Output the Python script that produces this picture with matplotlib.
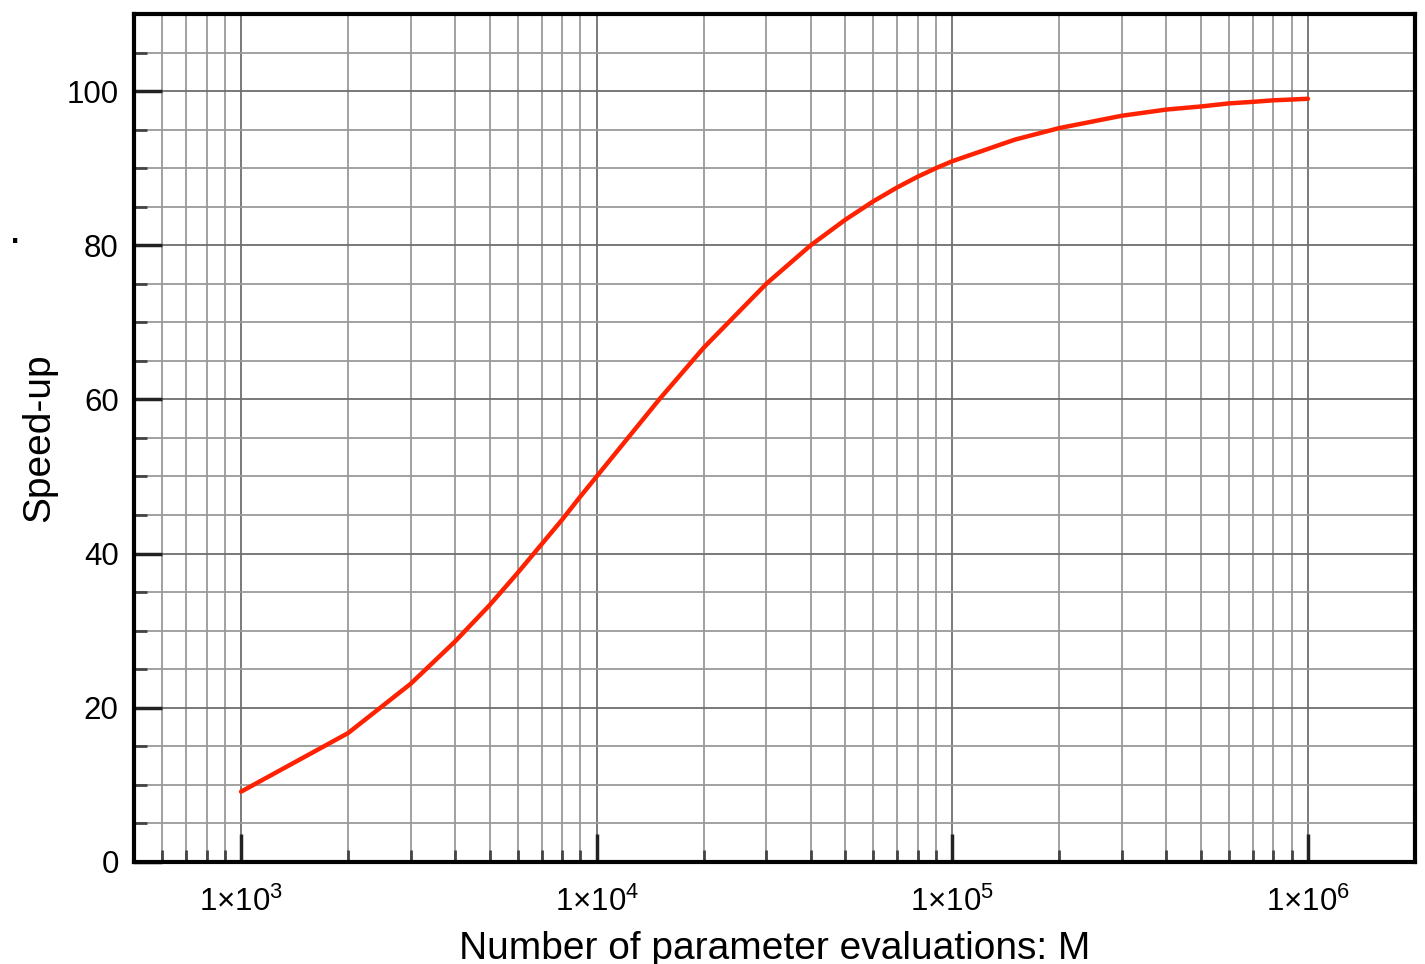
import numpy as np
import matplotlib.pyplot as plt
from matplotlib.ticker import FixedLocator, LogLocator, MultipleLocator, NullFormatter

plt.rcParams['font.family'] = ['Liberation Sans', 'DejaVu Sans']
plt.rcParams['mathtext.fontset'] = 'custom'
plt.rcParams['mathtext.rm'] = 'Liberation Sans'
plt.rcParams['mathtext.it'] = 'Liberation Sans:italic'

# number of parameter evaluations
M = [1e3, 2e3, 3e3, 4e3, 5e3, 6e3, 7e3, 8e3, 9e3,
     1e4, 1.5e4, 2e4, 3e4, 4e4, 5e4, 6e4, 7e4, 8e4, 9e4,
     1e5, 1.5e5, 2e5, 3e5, 4e5, 5e5, 6e5, 7e5, 8e5, 9e5,
     1e6]
# measured speed-up
speedup = [9.1, 16.7, 23.1, 28.6, 33.3, 37.5, 41.2, 44.4, 47.4,
           50.0, 60.0, 66.7, 75.0, 80.0, 83.3, 85.7, 87.5, 88.9, 90.0,
           90.9, 93.7, 95.2, 96.8, 97.6, 98.0, 98.4, 98.6, 98.8, 98.9,
           99.0]

xticks = [1e3, 1e4, 1e5, 1e6]
xticklabels = ['$\\mathregular{1{\\times}10^{3}}$', '$\\mathregular{1{\\times}10^{4}}$',
               '$\\mathregular{1{\\times}10^{5}}$', '$\\mathregular{1{\\times}10^{6}}$']
yticks = [0, 20, 40, 60, 80, 100]

fig = plt.figure(figsize=(14.25, 9.64), dpi=100)
ax = fig.add_axes([0.094, 0.106, 0.899, 0.8795])

ax.plot(M, speedup, color='#ff2200', lw=3.2, solid_capstyle='round', zorder=3)

ax.set_xscale('log')
ax.set_xlim(500, 2e6)
ax.set_ylim(0, 110)

ax.xaxis.set_major_locator(FixedLocator(xticks))
ax.set_xticklabels(xticklabels, fontsize=22)
ax.xaxis.set_minor_locator(LogLocator(base=10, subs=np.arange(2, 10)))
ax.xaxis.set_minor_formatter(NullFormatter())
ax.yaxis.set_major_locator(FixedLocator(yticks))
ax.yaxis.set_minor_locator(MultipleLocator(5))

ax.grid(which='major', color='#6e6e6e', lw=1.3)
ax.grid(which='minor', color='#9a9a9a', lw=1.3)
ax.set_axisbelow(True)

ax.tick_params(which='major', direction='in', length=20, width=2.5, color='#222222',
               labelsize=22.5, top=False, right=False)
ax.tick_params(which='minor', direction='in', length=9, width=2, color='#444444',
               top=False, right=False)
ax.tick_params(axis='y', which='major', pad=11)
ax.tick_params(axis='x', which='major', pad=18)

for s in ax.spines.values():
    s.set_linewidth(3)

ax.set_xlabel('Number of parameter evaluations: M', fontsize=28, labelpad=9)
ax.set_ylabel('Speed-up', fontsize=28, labelpad=7)

fig.text(0.011, 0.76, '.', fontsize=32, ha='center', va='center')

fig.savefig('out.png', dpi=100)
